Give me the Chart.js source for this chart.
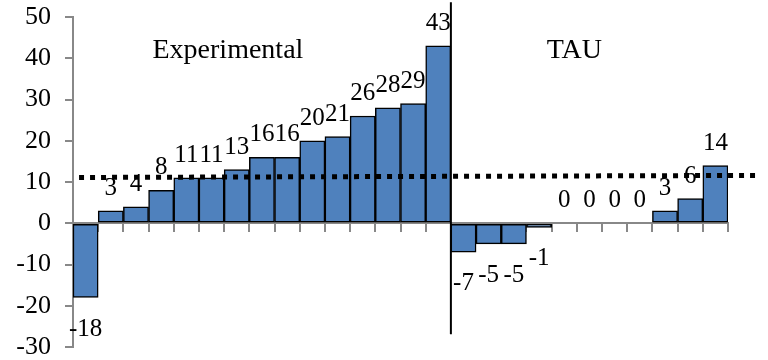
<!DOCTYPE html>
<html>
<head>
<meta charset="utf-8">
<script src="https://cdn.jsdelivr.net/npm/chart.js@4/dist/chart.umd.min.js"></script>
<style>
  html, body { margin: 0; padding: 0; background: #fff; }
  #wrap { width: 768px; height: 360px; }
</style>
</head>
<body>
<div id="wrap"><canvas id="chart"></canvas></div>
<script>
// Chart data
const groups = ['Experimental', 'TAU'];
const experimental = [-18, 3, 4, 8, 11, 11, 13, 16, 16, 20, 21, 26, 28, 29, 43];
const tau = [-7, -5, -5, -1, 0, 0, 0, 0, 3, 6, 14];
const values = [...experimental, ...tau];
const categories = values.map((v, i) => 'C' + (i + 1));
const yTicks = [-30, -20, -10, 0, 10, 20, 30, 40, 50];

// dotted reference line and group divider (in axis units)
const trendX = [-0.26, 26.64];
const trendY = [11.1, 11.6];
const dividerX = [experimental.length - 0.5, experimental.length - 0.5];
const dividerY = [-26.9, 53.6];

const FONT = 'Liberation Serif';
const $ = id => document.getElementById(id);

// value labels + group titles
const labelPlugin = {
    id: 'labels',
    afterDatasetsDraw(chart) {
        const ctx = chart.ctx;
        const meta = chart.getDatasetMeta(0);
        const y = chart.scales.y, xl = chart.scales.xl;
        ctx.save();
        ctx.fillStyle = '#000';
        ctx.textAlign = 'center';
        ctx.textBaseline = 'alphabetic';
        ctx.font = `25px "${FONT}"`;
        meta.data.forEach((el, i) => {
            const v = values[i];
            const ty = v >= 0 ? el.y - 16 : el.y + 38;
            ctx.fillText(String(v), el.x, ty);
        });
        ctx.font = `28px "${FONT}"`;
        const titlePos = [[5.65, 40], [19.4, 40]];
        groups.forEach((g, i) => {
            ctx.fillText(g, xl.getPixelForValue(titlePos[i][0]), y.getPixelForValue(titlePos[i][1]));
        });
        ctx.restore();
    }
};

new Chart($('chart'), {
    type: 'bar',
    data: {
        labels: categories,
        datasets: [
            {
                data: values,
                backgroundColor: '#4F81BD',
                borderColor: '#000',
                borderWidth: 1.5,
                borderSkipped: false,
                barPercentage: 1,
                categoryPercentage: 1,
                grouped: false,
                order: 2
            },
            {
                type: 'line',
                xAxisID: 'xl',
                data: trendX.map((x, i) => ({ x, y: trendY[i] })),
                borderColor: '#000',
                borderWidth: 5,
                borderDash: [5, 6],
                borderCapStyle: 'butt',
                pointRadius: 0,
                fill: false,
                clip: false,
                order: 1
            },
            {
                type: 'line',
                xAxisID: 'xl',
                data: dividerX.map((x, i) => ({ x, y: dividerY[i] })),
                borderColor: '#000',
                borderWidth: 2,
                pointRadius: 0,
                fill: false,
                clip: false,
                order: 1
            }
        ]
    },
    options: {
        responsive: true,
        maintainAspectRatio: false,
        animation: false,
        layout: { padding: { top: 17, bottom: 13, right: 40, left: 0 } },
        plugins: { legend: { display: false }, tooltip: { enabled: false } },
        scales: {
            x: {
                type: 'category',
                position: { y: 0 },
                z: 1,
                grid: { offset: true, drawOnChartArea: false, tickLength: 8, color: '#888', lineWidth: 2 },
                border: { color: '#888', width: 2 },
                ticks: { display: false }
            },
            xl: {
                type: 'linear',
                display: false,
                offset: false,
                min: -0.5,
                max: values.length - 0.5
            },
            y: {
                min: yTicks[0],
                max: yTicks[yTicks.length - 1],
                afterBuildTicks: s => { s.ticks = yTicks.map(v => ({ value: v })); },
                afterFit: s => { s.width = 73; s.paddingTop = 0; s.paddingBottom = 0; },
                grid: { drawOnChartArea: false, tickLength: 8, color: '#888', lineWidth: 2 },
                border: { color: '#888', width: 2 },
                ticks: { color: '#000', padding: 14, font: { family: FONT, size: 26 } }
            }
        }
    },
    plugins: [labelPlugin]
});
</script>
</body>
</html>
